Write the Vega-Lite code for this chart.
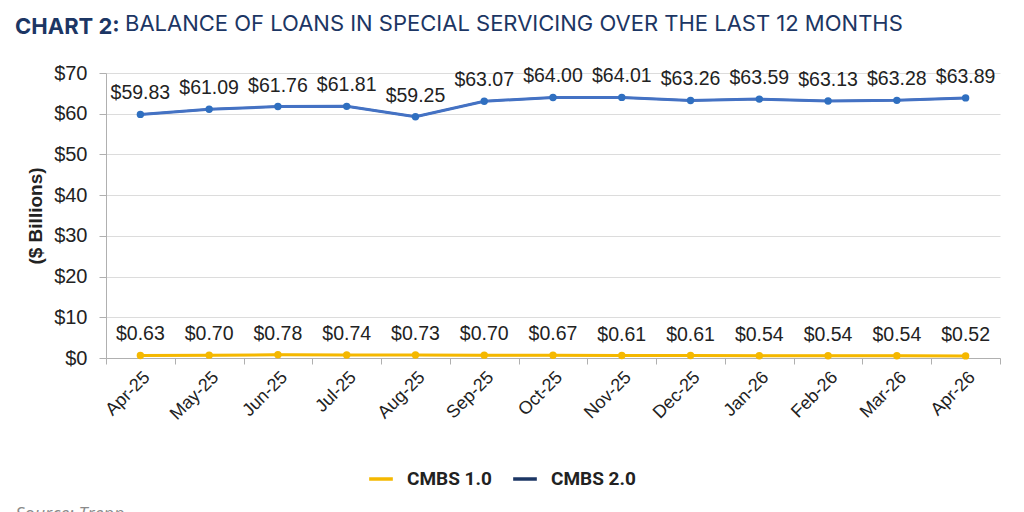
{
  "$schema": "https://vega.github.io/schema/vega-lite/v6.json",
  "width": 894,
  "height": 285,
  "autosize": {"type": "none"},
  "padding": {"left": 106, "top": 73, "right": 24, "bottom": 154},
  "background": "white",
  "title": {
    "text": "CHART 2:",
    "subtitle": "\u200b\u2003\u2003\u2003\u2003\u2003BALANCE OF LOANS IN SPECIAL SERVICING OVER THE LAST 12 MONTHS",
    "anchor": "start",
    "frame": "group",
    "dx": -91,
    "offset": 22,
    "font": "Inter",
    "fontSize": 22,
    "fontWeight": "bold",
    "color": "#1c3664",
    "subtitleFont": "Inter",
    "subtitleFontSize": 22,
    "subtitleFontWeight": "normal",
    "subtitleColor": "#1c3664",
    "subtitlePadding": -24.5
  },
  "config": {
    "view": {"stroke": null},
    "font": "Liberation Sans"
  },
  "data": {
    "values": [
      {"month": "Apr-25", "series": "CMBS 1.0", "value": 0.63},
      {"month": "May-25", "series": "CMBS 1.0", "value": 0.70},
      {"month": "Jun-25", "series": "CMBS 1.0", "value": 0.78},
      {"month": "Jul-25", "series": "CMBS 1.0", "value": 0.74},
      {"month": "Aug-25", "series": "CMBS 1.0", "value": 0.73},
      {"month": "Sep-25", "series": "CMBS 1.0", "value": 0.70},
      {"month": "Oct-25", "series": "CMBS 1.0", "value": 0.67},
      {"month": "Nov-25", "series": "CMBS 1.0", "value": 0.61},
      {"month": "Dec-25", "series": "CMBS 1.0", "value": 0.61},
      {"month": "Jan-26", "series": "CMBS 1.0", "value": 0.54},
      {"month": "Feb-26", "series": "CMBS 1.0", "value": 0.54},
      {"month": "Mar-26", "series": "CMBS 1.0", "value": 0.54},
      {"month": "Apr-26", "series": "CMBS 1.0", "value": 0.52},
      {"month": "Apr-25", "series": "CMBS 2.0", "value": 59.83},
      {"month": "May-25", "series": "CMBS 2.0", "value": 61.09},
      {"month": "Jun-25", "series": "CMBS 2.0", "value": 61.76},
      {"month": "Jul-25", "series": "CMBS 2.0", "value": 61.81},
      {"month": "Aug-25", "series": "CMBS 2.0", "value": 59.25},
      {"month": "Sep-25", "series": "CMBS 2.0", "value": 63.07},
      {"month": "Oct-25", "series": "CMBS 2.0", "value": 64.00},
      {"month": "Nov-25", "series": "CMBS 2.0", "value": 64.01},
      {"month": "Dec-25", "series": "CMBS 2.0", "value": 63.26},
      {"month": "Jan-26", "series": "CMBS 2.0", "value": 63.59},
      {"month": "Feb-26", "series": "CMBS 2.0", "value": 63.13},
      {"month": "Mar-26", "series": "CMBS 2.0", "value": 63.28},
      {"month": "Apr-26", "series": "CMBS 2.0", "value": 63.89}
    ]
  },
  "encoding": {
    "x": {
      "field": "month",
      "type": "ordinal",
      "sort": null,
      "bandPosition": 0.5,
      "scale": {"type": "band", "paddingInner": 0, "paddingOuter": 0},
      "title": "Source: Trepp",
      "axis": {
        "labelAngle": -45,
        "labelFontSize": 18,
        "labelColor": "#222222",
        "labelPadding": 4,
        "tickBand": "extent",
        "tickColor": "#b0b0b0",
        "tickSize": 6,
        "domainColor": "#b0b0b0",
        "grid": false,
        "titleAnchor": "start",
        "titleAlign": "left",
        "titleX": -91,
        "titleY": 147,
        "titleFont": "Open Sans",
        "titleFontStyle": "italic",
        "titleFontWeight": "normal",
        "titleFontSize": 18,
        "titleColor": "#8a8a8a"
      }
    },
    "y": {
      "field": "value",
      "type": "quantitative",
      "scale": {"domain": [0, 70]},
      "title": "($ Billions)",
      "axis": {
        "values": [0, 10, 20, 30, 40, 50, 60, 70],
        "format": "$d",
        "labelFontSize": 20,
        "labelColor": "#222222",
        "labelPadding": 12,
        "domainColor": "#b0b0b0",
        "tickColor": "#b0b0b0",
        "tickSize": 7,
        "gridColor": "#dcdcdc",
        "titleFontSize": 19,
        "titleFontWeight": "bold",
        "titleColor": "#222222",
        "titlePadding": 8
      }
    }
  },
  "layer": [
    {
      "mark": {"type": "line", "strokeWidth": 2},
      "encoding": {
        "color": {
          "field": "series",
          "type": "nominal",
          "scale": {"domain": ["CMBS 1.0", "CMBS 2.0"], "range": ["#f5b800", "#1c3664"]},
          "legend": {
            "title": null,
            "orient": "none",
            "legendX": 261,
            "legendY": 392,
            "direction": "horizontal",
            "symbolType": "stroke",
            "symbolSize": 560,
            "symbolStrokeWidth": 3.5,
            "labelFontSize": 19,
            "labelFontWeight": "bold",
            "labelFont": "Roboto",
            "labelColor": "#222222",
            "labelOffset": 12,
            "columnPadding": 14
          }
        }
      }
    },
    {
      "mark": {"type": "line", "strokeWidth": 3},
      "encoding": {
        "stroke": {
          "field": "series",
          "type": "nominal",
          "scale": {"domain": ["CMBS 1.0", "CMBS 2.0"], "range": ["#f5b800", "#4472c4"]},
          "legend": null
        }
      }
    },
    {
      "mark": {"type": "point", "filled": true, "size": 55, "opacity": 1},
      "encoding": {
        "fill": {
          "field": "series",
          "type": "nominal",
          "scale": {"domain": ["CMBS 1.0", "CMBS 2.0"], "range": ["#f5b800", "#2f6fc0"]},
          "legend": null
        }
      }
    },
    {
      "mark": {"type": "text", "dy": -21, "fontSize": 19.5, "color": "#222222"},
      "encoding": {
        "text": {"field": "value", "type": "quantitative", "format": "$.2f"}
      }
    }
  ]
}
